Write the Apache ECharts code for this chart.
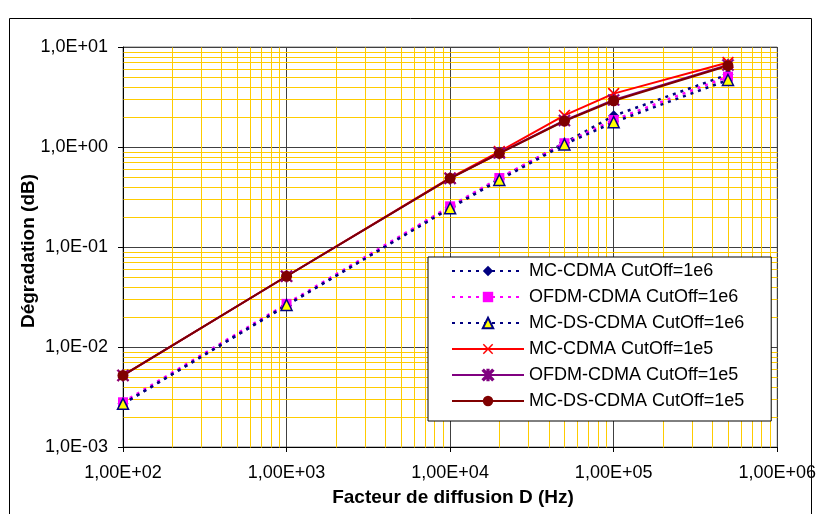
<!DOCTYPE html>
<html>
<head>
<meta charset="utf-8">
<script src="https://cdn.jsdelivr.net/npm/echarts@6/dist/echarts.min.js"></script>
<style>
html,body{margin:0;padding:0;background:#fff;}
#chart{width:819px;height:514px;}
</style>
</head>
<body>
<div id="chart"></div>
<script>
// ---- data ----
var xValues = [100, 1000, 10000, 20000, 50000, 100000, 500000];
var mcCdma1e6 = [0.0027, 0.026, 0.25, 0.48, 1.1, 2.05, 5.3];
var ofdmCdma1e6 = [0.0028, 0.027, 0.255, 0.49, 1.09, 1.86, 5.05];
var mcDsCdma1e6 = [0.0027, 0.0263, 0.244, 0.468, 1.06, 1.77, 4.68];
var mcCdma1e5 = [0.0052, 0.051, 0.49, 0.9, 2.07, 3.42, 7.0];
var ofdmCdma1e5 = [0.0052, 0.051, 0.485, 0.87, 1.84, 2.95, 6.6];
var mcDsCdma1e5 = [0.0052, 0.051, 0.486, 0.865, 1.82, 2.9, 6.5];
var seriesNames = ['MC-CDMA CutOff=1e6', 'OFDM-CDMA CutOff=1e6', 'MC-DS-CDMA CutOff=1e6',
                   'MC-CDMA CutOff=1e5', 'OFDM-CDMA CutOff=1e5', 'MC-DS-CDMA CutOff=1e5'];
var xTickLabels = ['1,00E+02', '1,00E+03', '1,00E+04', '1,00E+05', '1,00E+06'];
var yTickLabels = ['1,0E-03', '1,0E-02', '1,0E-01', '1,0E+00', '1,0E+01'];
var xTitle = 'Facteur de diffusion D (Hz)';
var yTitle = 'Dégradation (dB)';

function pairs(ys) { return xValues.map(function (x, i) { return [x, ys[i]]; }); }

var FONT = 'Arial, "Liberation Sans", sans-serif';
var xPath = 'path://M0,1L1,0L5,4L9,0L10,1L6,5L10,9L9,10L5,6L1,10L0,9L4,5Z';
var starPath = 'path://M0,1L1,0L5,4L9,0L10,1L6,5L10,9L9,10L5,6L1,10L0,9L4,5Z M4.4,0L4.4,10L5.6,10L5.6,0Z';

var X_MIN = 100, X_MAX = 1000000, Y_MIN = 0.001, Y_MAX = 10;
// minor grid positions (2..9 within each decade)
var minorXv = [], minorYv = [];
for (var d = 2; d < 6; d++) for (var k = 2; k < 10; k++) minorXv.push([k * Math.pow(10, d), 1]);
for (var e = -3; e < 1; e++) for (var k2 = 2; k2 < 10; k2++) minorYv.push([1000, k2 * Math.pow(10, e)]);

function gridLine(vert) {
  return function (params, api) {
    var p1, p2;
    if (vert) { var v = api.value(0); p1 = api.coord([v, Y_MIN]); p2 = api.coord([v, Y_MAX]); }
    else { var w = api.value(1); p1 = api.coord([X_MIN, w]); p2 = api.coord([X_MAX, w]); }
    var x1 = Math.round(p1[0]) + 0.5, y1 = Math.round(p1[1]) + 0.5;
    var x2 = Math.round(p2[0]) + 0.5, y2 = Math.round(p2[1]) + 0.5;
    if (vert) { x2 = x1; } else { y2 = y1; }
    return {type: 'line', shape: {x1: x1, y1: y1, x2: x2, y2: y2}, style: {stroke: '#FFCC00', lineWidth: 1}};
  };
}

var dotted = [3, 5];
function mk(name, ys, opt) {
  return Object.assign({
    name: name, type: 'line', data: pairs(ys), z: 3,
    animation: false, emphasis: {disabled: true}
  }, opt);
}

var option = {
  animation: false,
  backgroundColor: '#fff',
  grid: {left: 123, right: 39, top: 47, bottom: 67, show: true, borderColor: '#808080', borderWidth: 1, backgroundColor: 'transparent'},
  xAxis: {
    type: 'log', logBase: 10, min: X_MIN, max: X_MAX,
    axisLine: {show: true, lineStyle: {color: '#000', width: 1}},
    axisTick: {show: true, length: 5, lineStyle: {color: '#000'}},
    axisLabel: {fontFamily: FONT, fontSize: 18, color: '#000', margin: 17,
      formatter: function (v) { var i = Math.round(Math.log10(v)) - 2; return xTickLabels[i] || ''; }},
    splitLine: {show: true, lineStyle: {color: '#404040', width: 1}}
  },
  yAxis: {
    type: 'log', logBase: 10, min: Y_MIN, max: Y_MAX,
    axisLine: {show: true, lineStyle: {color: '#000', width: 1}},
    axisTick: {show: true, length: 5, lineStyle: {color: '#000'}},
    axisLabel: {fontFamily: FONT, fontSize: 18, color: '#000', margin: 15,
      formatter: function (v) { var i = Math.round(Math.log10(v)) + 3; return yTickLabels[i] || ''; }},
    splitLine: {show: true, lineStyle: {color: '#404040', width: 1}}
  },
  legend: {
    orient: 'vertical', left: 428, top: 257, z: 10,
    padding: [5, 27, 11, 23],
    itemWidth: 72, itemHeight: 13, itemGap: 8,
    backgroundColor: '#fff', borderColor: '#000', borderWidth: 1,
    textStyle: {fontFamily: FONT, fontSize: 18, color: '#000', lineHeight: 18},
    data: seriesNames, selectedMode: false
  },
  graphic: [
    {type: 'rect', shape: {x: 9.5, y: 18.5, width: 802, height: 520}, style: {fill: 'none', stroke: '#000', lineWidth: 1}, z: -10, silent: true},
    {type: 'text', x: 453, y: 498, style: {text: xTitle, font: 'bold 19px ' + FONT, fill: '#000', textAlign: 'center', textVerticalAlign: 'middle'}},
    {type: 'text', x: 29, y: 251, rotation: Math.PI / 2, style: {text: yTitle, font: 'bold 19px ' + FONT, fill: '#000', textAlign: 'center', textVerticalAlign: 'middle'}}
  ],
  series: [
    {type: 'custom', z: 1, silent: true, animation: false, data: minorXv, renderItem: gridLine(true)},
    {type: 'custom', z: 1, silent: true, animation: false, data: minorYv, renderItem: gridLine(false)},
    mk(seriesNames[0], mcCdma1e6, {symbol: 'diamond', symbolSize: 11, itemStyle: {color: '#000080'},
      lineStyle: {color: '#000080', width: 2.5, type: dotted}}),
    mk(seriesNames[1], ofdmCdma1e6, {symbol: 'rect', symbolSize: 10, itemStyle: {color: '#FF00FF'},
      lineStyle: {color: '#FF00FF', width: 2.5, type: dotted}}),
    mk(seriesNames[2], mcDsCdma1e6, {symbol: 'triangle', symbolSize: 11, itemStyle: {color: '#FFFF00', borderColor: '#000080', borderWidth: 1.5},
      lineStyle: {color: '#000080', width: 2.5, type: dotted}}),
    mk(seriesNames[3], mcCdma1e5, {symbol: xPath, symbolSize: 12, itemStyle: {color: '#FF0000'},
      lineStyle: {color: '#FF0000', width: 2, type: 'solid'}}),
    mk(seriesNames[4], ofdmCdma1e5, {symbol: starPath, symbolSize: 12, itemStyle: {color: '#800080', borderColor: '#800080', borderWidth: 0.5},
      lineStyle: {color: '#800080', width: 2, type: 'solid'}}),
    mk(seriesNames[5], mcDsCdma1e5, {symbol: 'circle', symbolSize: 11, itemStyle: {color: '#800000'},
      lineStyle: {color: '#800000', width: 2, type: 'solid'}})
  ]
};

var chart = echarts.init(document.getElementById('chart'), null, {renderer: 'canvas'});
chart.setOption(option);
</script>
</body>
</html>
